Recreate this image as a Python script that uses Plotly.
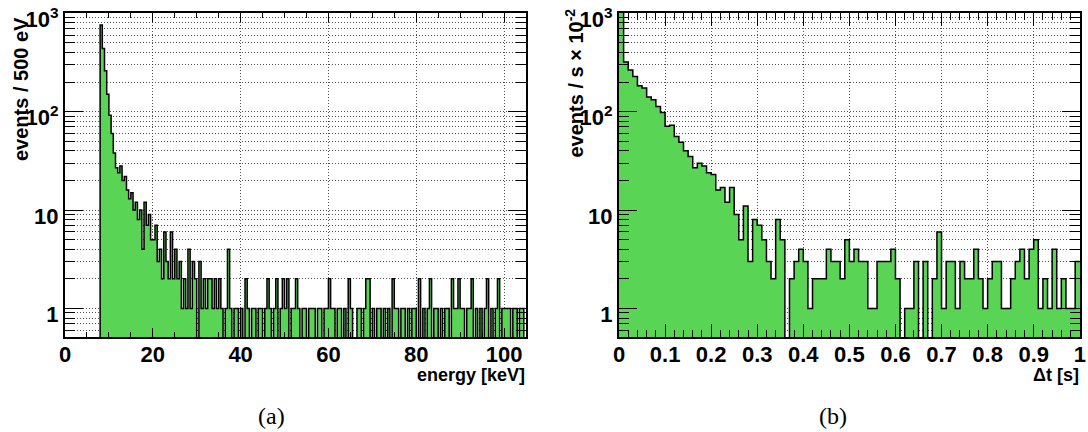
import numpy as np
import plotly.graph_objects as go

# ---------------- data ----------------
energy_bin_width = 0.5  # keV, bins from 0 to 105 keV
energy_counts = (
    [0] * 16
    + [760, 440, 260, 150, 92, 60, 38, 27, 24, 28, 20, 22, 16, 13, 15, 10, 12, 8, 10, 4, 12, 7, 9, 5]
    + [5, 7, 3, 4, 2, 6, 3, 2, 6, 2]
    + [4, 2, 3, 1, 2, 1, 4, 1, 3, 2, 0, 3, 1, 2, 1, 2, 2, 1, 2, 1, 2, 1, 0, 1, 4, 1, 0, 1, 1, 0]
    + [1, 0, 2, 1, 0, 1, 1, 0, 1, 1, 0, 1, 2, 1, 0, 1, 2, 0, 1, 2, 1, 2, 0, 1, 1, 2, 1, 0, 1, 1]
    + [0, 1, 1, 1, 0, 1, 1, 0, 1, 1, 2, 1, 1, 0, 1, 1, 0, 1, 0, 2, 1, 0, 0, 1, 1, 0, 1, 2, 2, 0]
    + [1, 0, 1, 1, 0, 1, 0, 1, 0, 2, 1, 1, 0, 1, 1, 0, 1, 0, 1, 1, 0, 2, 0, 1, 0, 1, 2, 0, 1, 1]
    + [0, 1, 0, 1, 1, 0, 2, 1, 1, 2, 1, 1, 0, 1, 1, 2, 0, 1, 0, 1, 0, 1, 2, 0, 1, 0, 1, 2, 0, 1]
    + [1, 1, 1, 0, 1, 1, 0, 1, 1, 0]
)

dt_bin_width = 0.01  # s, bins from 0 to 1 s
dt_counts = [
    1050, 320, 265, 228, 184, 174, 141, 132, 113, 98,
    71, 73, 56, 49, 40, 35, 27, 30, 28, 24,
    23, 16, 17, 12, 17, 9, 5, 11, 3, 8,
    7, 5, 3, 2, 8, 5, 0, 2, 3, 4,
    3, 1, 2, 2, 2, 4, 3, 3, 2, 5,
    3, 4, 3, 3, 1, 1, 3, 3, 3, 4,
    2, 0, 1, 1, 3, 0, 3, 0, 2, 6,
    1, 3, 3, 1, 3, 2, 2, 4, 2, 1,
    2, 3, 3, 1, 1, 2, 3, 4, 2, 4,
    5, 1, 2, 1, 4, 1, 2, 1, 1, 3,
]

y_tickvals = [1, 10, 100, 1000]
y_ticktext = ["1", "10", "10<sup>2</sup>", "10<sup>3</sup>"]
y_minorvals = [0.6, 0.7, 0.8, 0.9] + [m * 10 ** d for d in range(0, 3) for m in range(2, 10)]
energy_tickvals = [0, 20, 40, 60, 80, 100]
dt_tickvals = [0, 0.1, 0.2, 0.3, 0.4, 0.5, 0.6, 0.7, 0.8, 0.9, 1.0]
dt_ticktext = ["0", "0.1", "0.2", "0.3", "0.4", "0.5", "0.6", "0.7", "0.8", "0.9", "1"]

energy_range = [0, 105]
dt_range = [0, 1.0005]
y_log_range = [-0.29, 3.003]

# ---------------- styles ----------------
W, H = 1088, 432
GREEN = "#59d454"
FONT = "Liberation Sans"
GRID = "rgba(40,40,40,0.8)"
GRIDDASH = "1px,2px"


def hist_traces(counts, width, xa, ya, lw):
    counts = np.asarray(counts, dtype=float)
    n = len(counts)
    edges = np.arange(n + 1) * width
    centers = edges[:-1] + width / 2
    bar = go.Bar(
        x=centers, y=counts, width=width, marker=dict(color=GREEN, line=dict(width=0)),
        xaxis=xa, yaxis=ya, hoverinfo="skip",
    )
    yline = np.where(counts > 0, counts, 1e-3)
    step = go.Scatter(
        x=edges, y=np.append(yline, yline[-1]), mode="lines",
        line=dict(color="black", width=lw, shape="hv"),
        xaxis=xa, yaxis=ya, hoverinfo="skip",
    )
    return [bar, step]


fig = go.Figure()
for t in hist_traces(energy_counts, energy_bin_width, "x", "y", 1.5):
    fig.add_trace(t)
for t in hist_traces(dt_counts, dt_bin_width, "x2", "y2", 1.5):
    fig.add_trace(t)

ydom = [1 - 337 / H, 1 - 13 / H]
tickfont = dict(family=FONT, size=22, color="black", weight="bold")

common_axis = dict(
    showline=True, linecolor="black", linewidth=2, mirror="allticks",
    ticks="inside", tickcolor="black", tickfont=tickfont, ticklabeloverflow="allow",
    automargin=False,
    showgrid=True, gridcolor=GRID, griddash=GRIDDASH, gridwidth=1, zeroline=False,
)


def yaxis_cfg(anchor):
    return dict(
        common_axis, type="log", range=y_log_range, domain=ydom, anchor=anchor,
        tickmode="array", tickvals=y_tickvals, ticktext=y_ticktext, ticklen=18, tickwidth=1.3,
        ticklabelshift=6,
        minor=dict(tickmode="array", tickvals=y_minorvals, ticks="inside", ticklen=10,
                   tickcolor="black", tickwidth=1.2, showgrid=True, gridcolor=GRID,
                   griddash=GRIDDASH, gridwidth=1),
    )


fig.update_layout(
    width=W, height=H, margin=dict(l=0, r=0, t=0, b=0, autoexpand=False),
    paper_bgcolor="white", plot_bgcolor="white", showlegend=False,
    bargap=0, barmode="overlay",
    xaxis=dict(common_axis, range=energy_range, domain=[65 / W, 526 / W], anchor="y",
               tickmode="array", tickvals=energy_tickvals, ticklen=9, tickwidth=1.3,
               ticklabelstandoff=-3,
               minor=dict(dtick=5, tick0=0, ticks="inside", ticklen=5, tickcolor="black",
                          tickwidth=1.2, showgrid=False)),
    yaxis=yaxis_cfg("x"),
    xaxis2=dict(common_axis, range=dt_range, domain=[619 / W, 1080 / W], anchor="y2",
                tickmode="array", tickvals=dt_tickvals, ticktext=dt_ticktext, ticklen=13,
                tickwidth=1.3, ticklabelstandoff=-3,
                minor=dict(dtick=0.02, tick0=0, ticks="inside", ticklen=7, tickcolor="black",
                           tickwidth=1.2, showgrid=False)),
    yaxis2=yaxis_cfg("x2"),
)

title_font = dict(family=FONT, size=18, color="black", weight="bold")
ytitle_font = dict(family=FONT, size=20, color="black", weight="bold")
cap_font = dict(family="Liberation Serif", size=24, color="black")
annotations = [
    dict(text="energy [keV]", x=527 / W, y=1 - 375 / H, xanchor="right", yanchor="middle",
         font=title_font),
    dict(text="Δt [s]", x=1081 / W, y=1 - 375 / H, xanchor="right", yanchor="middle",
         font=title_font),
    dict(text="events / 500 eV", x=21 / W, y=1 - 15 / H, xanchor="center", yanchor="top",
         textangle=-90, font=ytitle_font),
    dict(text="events / s × 10<sup>-2</sup>", x=574 / W, y=1 - 7 / H, xanchor="center",
         yanchor="top", textangle=-90, font=ytitle_font),
    dict(text="(a)", x=271 / W, y=1 - 416 / H, xanchor="center", yanchor="middle", font=cap_font),
    dict(text="(b)", x=833 / W, y=1 - 416 / H, xanchor="center", yanchor="middle", font=cap_font),
]
for a in annotations:
    a.update(xref="paper", yref="paper", showarrow=False)
fig.update_layout(annotations=annotations)

fig.write_html("out.html")
